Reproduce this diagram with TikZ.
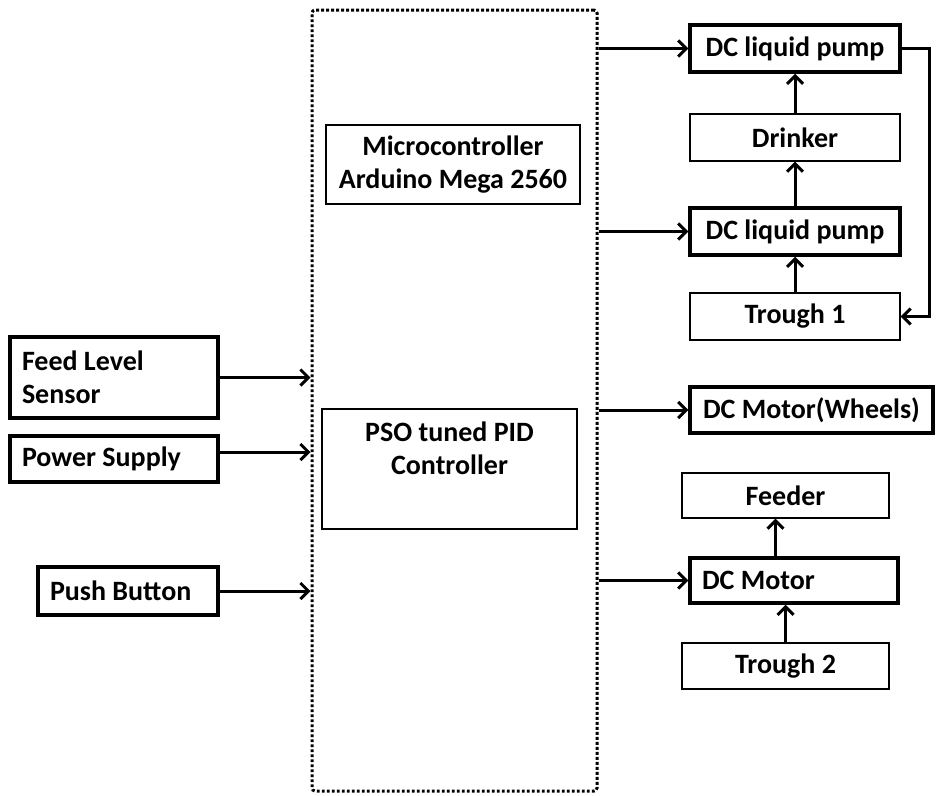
\documentclass[tikz,border=0pt]{standalone}
\usepackage{fontspec}
\setmainfont{Carlito}
\usetikzlibrary{arrows.meta}

\begin{document}
\begin{tikzpicture}[
  x=1pt,
  y=-1pt,
  font=\fontsize{28}{33}\selectfont\bfseries,
  block/.style={
    draw,
    line width=1.2pt,
    inner sep=0pt,
    align=center
  },
  thick block/.style={
    block,
    line width=3.5pt
  },
  left block/.style={
    thick block,
    align=flush left,
    inner xsep=12pt
  },
  link/.style={
    draw,
    line width=3pt,
    -{Straight Barb[length=8pt,width=16pt,line width=3pt]}
  },
  controller/.style={
    draw,
    line width=3pt,
    dash pattern=on 2.8pt off 2.2pt,
    rounded corners=3pt,
    minimum width=285pt,
    minimum height=781pt
  },
]
\useasboundingbox (0,0) rectangle (936,795);

\node[controller] (ctrl) at (454.5,400.5) {};
\node[block, minimum width=254pt, minimum height=79pt] (mcu) at (453,164.5)
  {Microcontroller\\Arduino Mega 2560};
\node[block, minimum width=255pt, minimum height=120pt,
  label={[name=pidtext, align=center, anchor=north, inner sep=0pt, yshift=-13pt]north:PSO tuned PID\\Controller}]
  (pid) at (449.5,469) {};

\node[left block, text width=184pt, minimum height=81pt] (sensor) at (114,377.5) {Feed Level\\Sensor};
\node[left block, text width=184pt, minimum height=46pt] (power) at (114,459) {Power Supply};
\node[left block, text width=156pt, minimum height=48pt] (button) at (128,591) {Push Button};

\node[thick block, minimum width=210pt, minimum height=47pt] (pumpa) at (795,48.5) {DC liquid pump};
\node[block, minimum width=210pt, minimum height=47pt] (drinker) at (795,137.5) {Drinker};
\node[thick block, minimum width=210pt, minimum height=47pt] (pumpb) at (795,231.5) {DC liquid pump};
\node[block, minimum width=210pt, minimum height=47pt] (trougha) at (795,316.5) {Trough 1};
\node[thick block, minimum width=243pt, minimum height=46pt] (wheels) at (811.5,410) {DC Motor(Wheels)};
\node[block, minimum width=207pt, minimum height=45pt] (feeder) at (785.5,495.5) {Feeder};
\node[left block, text width=184pt, minimum height=45pt] (motor) at (794,580.5) {DC Motor};
\node[block, minimum width=207pt, minimum height=46pt] (troughb) at (785.5,666) {Trough 2};

\draw[link] (sensor.east) -- (sensor.east -| ctrl.west);
\draw[link] ([yshift=7pt]power.east) -- ([yshift=7pt]power.east -| ctrl.west);
\draw[link] (button.east) -- (button.east -| ctrl.west);

\draw[link] (ctrl.east |- pumpa.west) -- (pumpa.west);
\draw[link] (ctrl.east |- pumpb.west) -- (pumpb.west);
\draw[link] (ctrl.east |- wheels.west) -- (wheels.west);
\draw[link] (ctrl.east |- motor.west) -- (motor.west);

\draw[link] (drinker.north) -- (pumpa.south);
\draw[link] (pumpb.north) -- (drinker.south);
\draw[link] (trougha.north) -- (pumpb.south);
\draw[link] (pumpa.east) -- ++(28,0) |- (trougha.east);

\draw[link] ([xshift=-10pt]feeder.south |- motor.north) -- ([xshift=-10pt]feeder.south);
\draw[link] (troughb.north) -- (troughb.north |- motor.south);
\end{tikzpicture}
\end{document}
